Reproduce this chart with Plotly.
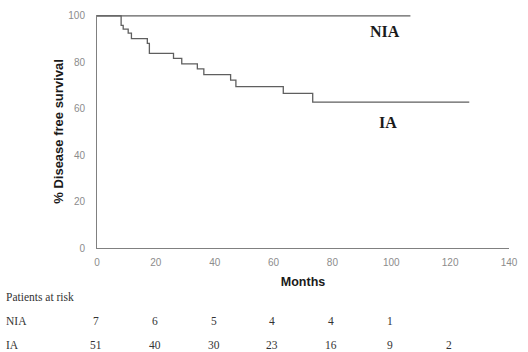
import plotly.graph_objects as go

# ---- data ----
ia_months = [0, 8.2, 8.9, 10.6, 11.7, 17.1, 17.8, 26.0, 28.8, 34.1, 36.3, 45.4, 47.2, 63.3, 73.3, 126.5]
ia_surv = [100, 95.9, 94.3, 92.6, 90.2, 88.2, 83.9, 81.7, 79.3, 77.2, 74.7, 72.3, 69.5, 66.6, 62.9, 62.9]
nia_months = [0, 106.5]
nia_surv = [100, 100]

risk_months = [0, 20, 40, 60, 80, 100, 120]
nia_risk = [7, 6, 5, 4, 4, 1]
ia_risk = [51, 40, 30, 23, 16, 9, 2]

x_ticks = [0, 20, 40, 60, 80, 100, 120, 140]
y_ticks = [0, 20, 40, 60, 80, 100]

W, H = 528, 352
L, R, T, B = 97, 13, 10, 104
PH = H - T - B
PW = W - L - R
XMAX = 140

def ypaper(py):
    return (H - B - py) / PH

def xpaper(px):
    return (px - L) / PW

def month_paper(m):
    return m / XMAX

line_col = "#5f5f5f"
fig = go.Figure()
fig.add_trace(go.Scatter(x=nia_months, y=nia_surv, mode="lines", line_shape="hv",
                         line=dict(color=line_col, width=1.3), showlegend=False))
fig.add_trace(go.Scatter(x=ia_months, y=ia_surv, mode="lines", line_shape="hv",
                         line=dict(color=line_col, width=1.3), showlegend=False))

tick_font = dict(family="Liberation Sans, Arial", size=10, color="#8c8c8c")
fig.update_xaxes(range=[0, XMAX], tickvals=x_ticks, showgrid=False, zeroline=False,
                 showline=True, linecolor="#808080", linewidth=1, ticks="",
                 tickfont=tick_font, ticklabelstandoff=5,
                 title=dict(text="<b>Months</b>", standoff=10,
                            font=dict(family="Liberation Sans, Arial", size=12.5, color="#1a1a1a")))
fig.update_yaxes(range=[0, 100.4], tickvals=y_ticks, showgrid=False, zeroline=False,
                 showline=True, linecolor="#808080", linewidth=1, ticks="",
                 tickfont=tick_font, ticklabelstandoff=9,
                 title=dict(text="<b>% Disease free survival</b>", standoff=1,
                            font=dict(family="Liberation Sans, Arial", size=13, color="#1a1a1a")))

serif = "Liberation Serif, Times New Roman"
ann = []
ann.append(dict(x=xpaper(389), y=ypaper(27), xref="paper", yref="paper",
                xanchor="center", yanchor="middle",
                text="<b>NIA</b>", showarrow=False,
                font=dict(family=serif, size=16, color="#1a1a1a")))
ann.append(dict(x=xpaper(392), y=ypaper(120), xref="paper", yref="paper",
                xanchor="center", yanchor="middle",
                text="<b>IA</b>", showarrow=False,
                font=dict(family=serif, size=16, color="#1a1a1a")))

tbl_font = dict(family=serif, size=11.5, color="#333333")
for txt, py in [("Patients at risk", 298), ("NIA", 323), ("IA", 347)]:
    ann.append(dict(x=xpaper(3), y=ypaper(py), xref="paper", yref="paper",
                    xanchor="left", yanchor="middle",
                    text=txt, showarrow=False, font=tbl_font))
for m, v in zip(risk_months, nia_risk):
    ann.append(dict(x=month_paper(m) - 1.2 / PW, y=ypaper(323), xref="paper", yref="paper",
                    xanchor="center", yanchor="middle",
                    text=str(v), showarrow=False, font=tbl_font))
for m, v in zip(risk_months, ia_risk):
    ann.append(dict(x=month_paper(m) - 1.2 / PW, y=ypaper(347), xref="paper", yref="paper",
                    xanchor="center", yanchor="middle",
                    text=str(v), showarrow=False, font=tbl_font))

fig.update_layout(width=W, height=H, margin=dict(l=L, r=R, t=T, b=B),
                  paper_bgcolor="white", plot_bgcolor="white",
                  annotations=ann, showlegend=False)

fig.write_html("out.html")
